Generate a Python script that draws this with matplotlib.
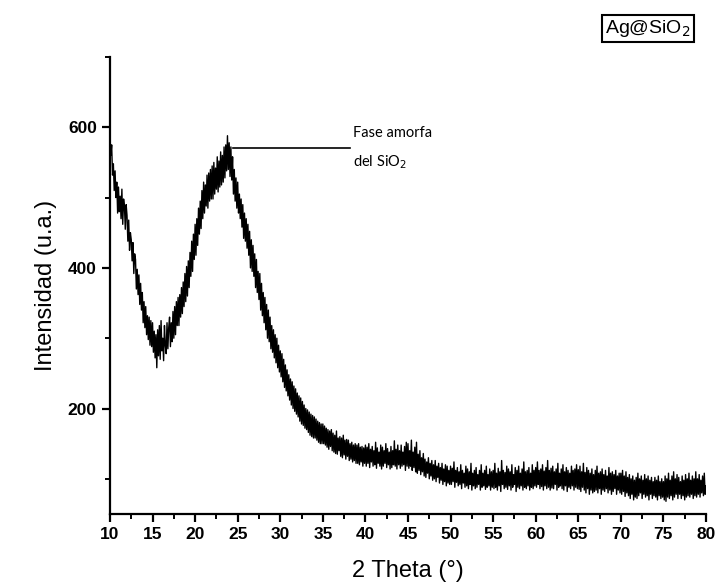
import numpy as np
import matplotlib.pyplot as plt
from matplotlib.ticker import MultipleLocator

# intensity, 2 theta from 10 to 80 deg in 0.1 steps
intensity = [
    # 10 - 14.9
    588, 560, 575, 532, 548, 510, 538, 500, 522, 478,
    515, 480, 502, 470, 512, 462, 498, 488, 455, 490,
    475, 438, 468, 425, 450, 440, 410, 436, 392, 420,
    412, 370, 398, 362, 390, 348, 378, 340, 365, 322,
    352, 315, 345, 305, 332, 298, 330, 290, 325, 288,
    # 15 - 19.9
    322, 280, 310, 272, 305, 258, 312, 275, 318, 270,
    325, 282, 300, 268, 318, 290, 278, 322, 285, 315,
    330, 288, 322, 295, 338, 300, 345, 305, 352, 318,
    358, 318, 362, 330, 372, 335, 380, 345, 392, 352,
    402, 360, 410, 372, 422, 388, 438, 395, 448, 412,
    # 20 - 24.9
    462, 418, 470, 432, 485, 448, 495, 456, 510, 470,
    522, 478, 518, 488, 532, 485, 535, 495, 540, 498,
    545, 498, 550, 505, 542, 512, 558, 508, 552, 515,
    565, 518, 560, 522, 572, 528, 575, 538, 588, 540,
    578, 530, 572, 525, 558, 505, 540, 495, 528, 485,
    # 25 - 29.9
    522, 478, 505, 470, 498, 458, 490, 442, 478, 438,
    470, 428, 462, 418, 452, 400, 440, 395, 432, 388,
    420, 372, 412, 365, 395, 355, 392, 340, 378, 332,
    365, 322, 358, 312, 348, 300, 340, 295, 330, 285,
    318, 280, 312, 272, 305, 265, 300, 258, 290, 252,
    # 30 - 34.9
    282, 245, 278, 238, 270, 230, 262, 225, 255, 218,
    248, 212, 242, 205, 238, 200, 232, 196, 228, 192,
    222, 188, 218, 182, 215, 178, 210, 176, 205, 172,
    200, 170, 198, 166, 195, 162, 192, 160, 190, 158,
    188, 158, 185, 155, 182, 152, 180, 150, 178, 150,
    # 35 - 39.9
    178, 150, 175, 148, 172, 145, 170, 142, 168, 146,
    170, 140, 165, 138, 162, 136, 168, 135, 158, 140,
    160, 132, 158, 130, 162, 134, 155, 128, 156, 132,
    155, 126, 150, 128, 152, 124, 148, 126, 150, 122,
    148, 122, 150, 120, 145, 124, 146, 118, 144, 122,
    # 40 - 44.9
    148, 118, 145, 122, 150, 116, 142, 124, 146, 118,
    140, 120, 152, 115, 144, 122, 138, 118, 148, 114,
    145, 118, 140, 122, 150, 116, 143, 120, 138, 114,
    146, 116, 140, 120, 154, 118, 142, 114, 148, 120,
    140, 115, 148, 118, 138, 120, 146, 112, 152, 118,
    # 45 - 49.9
    150, 115, 140, 118, 155, 112, 138, 116, 145, 110,
    152, 108, 135, 112, 140, 106, 130, 110, 136, 104,
    128, 102, 124, 108, 130, 100, 122, 104, 126, 98,
    120, 100, 126, 96, 118, 102, 122, 94, 116, 98,
    122, 92, 114, 96, 120, 90, 118, 94, 112, 92,
    # 50 - 54.9
    118, 92, 115, 96, 124, 88, 112, 95, 116, 90,
    110, 92, 120, 86, 112, 94, 108, 88, 118, 90,
    114, 86, 110, 92, 122, 84, 108, 90, 112, 86,
    116, 88, 106, 92, 112, 84, 120, 88, 108, 90,
    112, 85, 118, 88, 106, 90, 114, 84, 110, 88,
    # 55 - 59.9
    112, 86, 122, 88, 108, 84, 115, 90, 110, 82,
    126, 92, 112, 86, 109, 88, 118, 85, 114, 90,
    110, 84, 120, 88, 106, 92, 116, 82, 112, 88,
    118, 86, 108, 90, 114, 84, 124, 88, 110, 86,
    112, 90, 116, 84, 108, 88, 120, 86, 112, 90,
    # 60 - 64.9
    116, 88, 124, 92, 112, 86, 114, 89, 120, 84,
    111, 90, 116, 86, 126, 88, 112, 84, 115, 87,
    118, 86, 110, 92, 114, 84, 122, 88, 108, 90,
    114, 86, 120, 84, 110, 90, 116, 82, 112, 88,
    108, 86, 118, 90, 112, 84, 114, 88, 120, 86,
    # 65 - 69.9
    113, 85, 118, 82, 110, 88, 122, 84, 109, 80,
    116, 86, 112, 78, 108, 84, 114, 80, 106, 82,
    112, 84, 118, 80, 108, 86, 110, 78, 114, 84,
    106, 82, 112, 86, 104, 80, 116, 84, 108, 78,
    110, 82, 106, 86, 112, 78, 104, 84, 108, 80,
    # 70 - 74.9
    108, 78, 112, 82, 104, 75, 110, 80, 102, 76,
    106, 72, 100, 78, 104, 70, 98, 74, 102, 72,
    108, 76, 100, 80, 104, 72, 98, 78, 106, 74,
    100, 76, 104, 70, 98, 78, 102, 72, 96, 76,
    102, 74, 98, 70, 104, 76, 96, 72, 100, 74,
    # 75 - 80
    96, 70, 104, 68, 100, 74, 108, 72, 98, 76,
    104, 70, 110, 74, 100, 78, 106, 72, 102, 78,
    96, 72, 104, 76, 98, 70, 106, 74, 100, 76,
    108, 74, 98, 78, 104, 72, 100, 76, 110, 74,
    100, 78, 106, 74, 98, 80, 104, 76, 108, 78,
    90,
]
two_theta = 10 + 0.1 * np.arange(len(intensity))

x_ticks = list(range(10, 81, 5))
y_ticks = [200, 400, 600]
y_minor = [100, 300, 500, 700]

label_font = ['Liberation Sans', 'DejaVu Sans']

fig = plt.figure(figsize=(7.15, 5.88), dpi=100)
ax = fig.add_axes([0.1538, 0.1259, 0.8336, 0.7772])

ax.plot(two_theta, intensity, color='black', lw=1.0)

ax.set_xlim(10, 80)
ax.set_ylim(50, 700)
ax.set_xticks(x_ticks)
ax.set_yticks(y_ticks)
ax.xaxis.set_minor_locator(MultipleLocator(2.5))
ax.set_yticks(y_minor, minor=True)

for s in ['top', 'right']:
    ax.spines[s].set_visible(False)
for s in ['left', 'bottom']:
    ax.spines[s].set_linewidth(1.6)

ax.tick_params(which='major', direction='out', length=6, width=1.6)
ax.tick_params(which='minor', direction='out', length=3.5, width=1.4)
for lab in ax.get_xticklabels() + ax.get_yticklabels():
    lab.set_family(label_font)
    lab.set_fontweight('bold')
    lab.set_fontsize(12.5)

ax.set_xlabel('2 Theta (°)', family=label_font, fontsize=17, labelpad=13)
ax.set_ylabel('Intensidad (u.a.)', family=label_font, fontsize=17, labelpad=8)

# annotation for the amorphous hump
ax.plot([24.45, 38.2], [570, 570], color='black', lw=1.2)
ax.text(38.5, 592, 'Fase amorfa', family=['Lato', 'DejaVu Sans'], fontsize=10.5, va='center')
ax.text(38.5, 550, 'del SiO$_2$', family=['Lato', 'DejaVu Sans'], fontsize=10.5, va='center')

fig.text(0.906, 0.952, 'Ag@SiO$_2$', family=['Liberation Sans', 'DejaVu Sans'], fontsize=14,
         ha='center', va='center',
         bbox=dict(boxstyle='square,pad=0.15', fc='white', ec='black', lw=1.5))

fig.savefig('out.png', dpi=100)
